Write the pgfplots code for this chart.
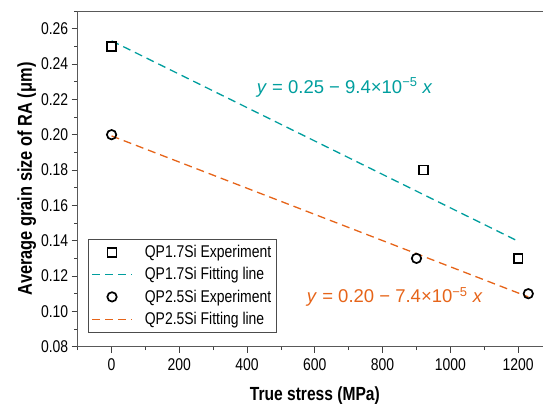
\documentclass[border=0pt]{standalone}
\usepackage{pgfplots}
\pgfplotsset{compat=1.18}
\usetikzlibrary{calc}
\usepackage{fontspec}
\setmainfont{Liberation Sans}[FakeStretch=0.82]
\newfontfamily\eqfont{Liberation Sans}
\definecolor{teal1}{RGB}{0,158,158}
\definecolor{orng}{RGB}{230,100,25}
\begin{document}
\begin{tikzpicture}
\begin{axis}[
  name=ax,
  scale only axis,
  width=474.3pt, height=335.7pt,
  xmin=-100, xmax=1300, ymin=0.08, ymax=0.27,
  axis x line=box, axis y line*=left,
  xtick={0,200,...,1200}, minor xtick={-100,100,300,500,700,900,1100,1300},
  ytick={0.08,0.10,...,0.26}, minor ytick={0.09,0.11,...,0.27},
  xtick pos=bottom, ytick pos=left,
  tick align=outside,
  major tick length=6pt, minor tick length=3.5pt,
  every tick/.style={black!75, line width=0.8pt},
  axis line style={black!65, line width=0.9pt},
  xticklabel style={/pgf/number format/1000 sep={}, yshift=-2pt},
  yticklabel style={/pgf/number format/fixed, /pgf/number format/fixed zerofill, /pgf/number format/precision=2},
  /pgf/number format/assume math mode=true,
  ticklabel style={font=\fontsize{17}{17}\selectfont},
  xlabel={\textbf{True stress (MPa)}},
  ylabel={\textbf{Average grain size of RA (μm)}},
  xlabel style={font=\fontsize{19}{19}\selectfont, yshift=-10pt},
  ylabel style={font=\fontsize{20}{20}\selectfont, yshift=-2pt},
  legend style={at={(0.0217,0.321)}, anchor=north west, draw=black!70, line width=0.8pt,
    font=\fontsize{17}{17}\selectfont, row sep=4.5pt, inner xsep=3pt, inner ysep=4pt,
    cells={anchor=west}},
  legend image code/.code={\draw[mark repeat=2,mark phase=2,#1] plot coordinates {(0pt,0pt) (20pt,0pt) (40pt,0pt)}; \path (50pt,0pt);},
  legend cell align=left,
]
\addplot[only marks, mark=square, mark size=4.4pt, line width=1.7pt, black] coordinates {(0,0.25) (920,0.18) (1200,0.13)};
\addlegendentry{QP1.7Si Experiment\hspace{4pt}}
\addplot[teal1, line width=1.3pt, dash pattern=on 8pt off 5pt] coordinates {(0,0.2531) (1200,0.1397)};
\addlegendentry{QP1.7Si Fitting line}
\addplot[only marks, mark=o, mark size=4.7pt, line width=1.7pt, black] coordinates {(0,0.20) (900,0.13) (1230,0.11)};
\addlegendentry{QP2.5Si Experiment\hspace{4pt}}
\addplot[orng, line width=1.3pt, dash pattern=on 8pt off 5pt] coordinates {(0,0.1993) (1230,0.1082)};
\addlegendentry{QP2.5Si Fitting line}
\node[teal1, font=\eqfont\fontsize{18.5}{18.5}\selectfont] at (axis cs:688,0.2267) {\textit{y} = 0.25 − 9.4×10\textsuperscript{−5} \textit{x}};
\node[orng, font=\eqfont\fontsize{18.5}{18.5}\selectfont] at (axis cs:836,0.1083) {\textit{y} = 0.20 − 7.4×10\textsuperscript{−5} \textit{x}};
\end{axis}
\pgfresetboundingbox
\useasboundingbox ($(ax.south west)+(-77.7pt,-58.3pt)$) rectangle ($(ax.south west)+(465.3pt,346.7pt)$);
\end{tikzpicture}
\end{document}
